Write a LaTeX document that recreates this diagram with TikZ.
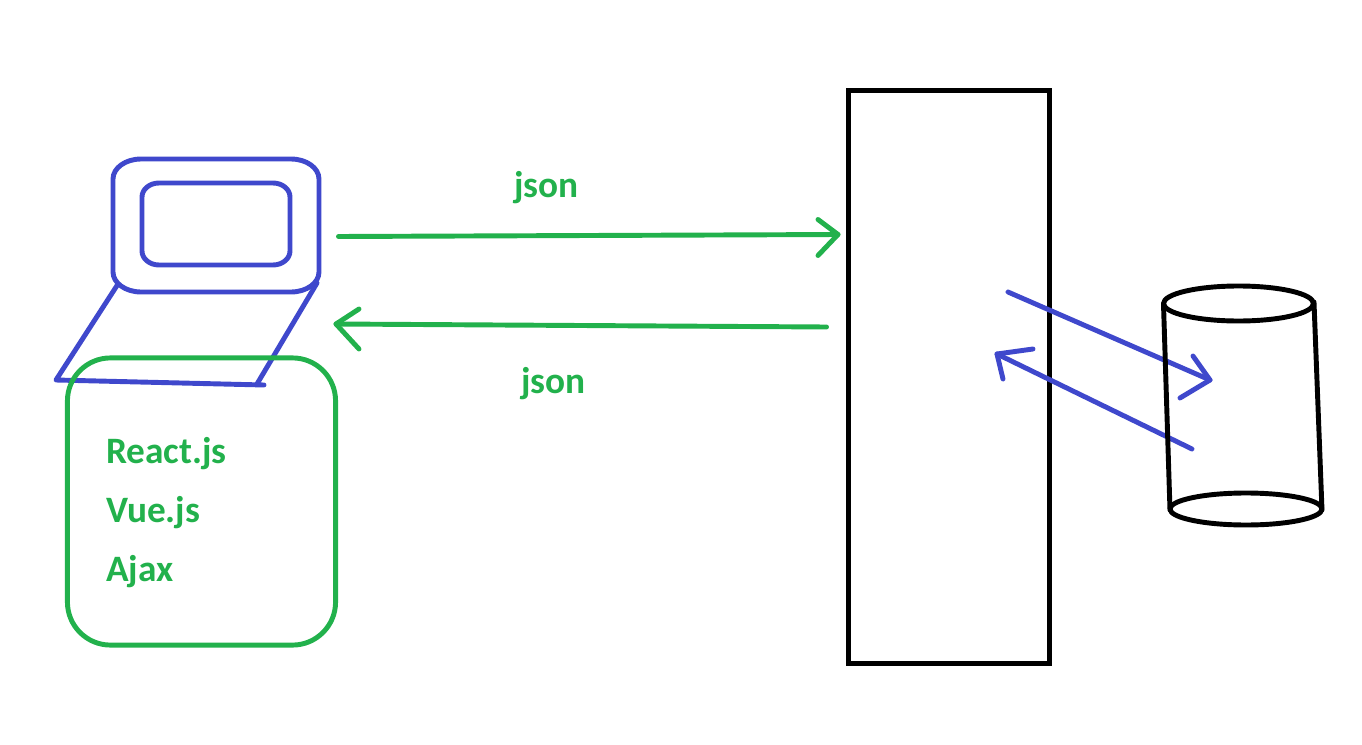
\documentclass[tikz,border=0pt]{standalone}
\usepackage{fontspec}
\setmainfont{Carlito}
\definecolor{paintblue}{HTML}{3F48CC}
\definecolor{paintgreen}{HTML}{22B14C}
\tikzset{
	bluepen/.style={draw=paintblue, line width=1.4pt, line cap=round, line join=round},
	greenpen/.style={draw=paintgreen, line width=1.4pt, line cap=round, line join=round},
	blackpen/.style={draw=black, line width=1.4pt, line cap=round, line join=round},
	label/.style={anchor=base west, inner sep=0pt, text=paintgreen, font=\fontsize{10.6}{12}\selectfont\bfseries},
	box/.style={rectangle, inner sep=0pt}
}
% left, top, right, bottom, corner width, corner height
\newcommand{\softbox}[6]{
	\draw[bluepen] ({#1+#5},#2) -- ({#3-#5},#2)
		arc[start angle=-90, end angle=0, x radius=#5, y radius=#6] -- (#3,{#4-#6})
		arc[start angle=0, end angle=90, x radius=#5, y radius=#6] -- ({#1+#5},#4)
		arc[start angle=90, end angle=180, x radius=#5, y radius=#6] -- (#1,{#2+#6})
		arc[start angle=180, end angle=270, x radius=#5, y radius=#6] -- cycle;
}
\begin{document}
\begin{tikzpicture}[x=.01cm,y=-.01cm]
	\useasboundingbox (0,0) rectangle (1362,745);

	% server
	\node[box, blackpen, line cap=butt, line join=miter, minimum width=2.01cm, minimum height=5.72cm] (server) at (949,377) {};

	% laptop
	\softbox{113}{159}{319}{292}{28}{20}
	\softbox{142}{183}{290}{265}{17}{14}
	\draw[bluepen] (118,284) -- (56,380) -- (264,385);
	\draw[bluepen] (257,384) -- (317,283);

	% libraries
	\node[box, greenpen, minimum width=2.68cm, minimum height=2.87cm, rounded corners=.43cm] (libs) at (201.5,501.5) {};
	\node[label] (react) at (105.5,463) {React.js};
	\node[label] (vue) at (105.5,522) {Vue.js};
	\node[label] (ajax) at (105.5,581) {Ajax};

	% requests
	\coordinate (reqfrom) at (338.5,236.5);
	\coordinate (reqto) at (838,234.5);
	\coordinate (resfrom) at (826.5,327);
	\coordinate (resto) at (336,324);
	\draw[greenpen] (reqfrom) -- (reqto);
	\draw[greenpen] (reqto) ++(-20,-15) -- (reqto) -- ++(-20,21);
	\draw[greenpen] (resfrom) -- (resto);
	\draw[greenpen] (resto) ++(23,-15) -- (resto) -- ++(23,25);
	\node[label] (jsonreq) at (513.5,197) {json};
	\node[label] (jsonres) at (520.5,393) {json};

	% queries
	\coordinate (qfrom) at (1008,292);
	\coordinate (qto) at (1210,380);
	\coordinate (rfrom) at (1192,449);
	\coordinate (rto) at (997,354);
	\draw[bluepen] (qfrom) -- (qto);
	\draw[bluepen] (qto) ++(-17,-24) -- (qto) -- ++(-30,18);
	\draw[bluepen] (rfrom) -- (rto);
	\draw[bluepen] (rto) ++(36,-5) -- (rto) -- ++(6,25);

	% database
	\draw[blackpen] (1238.5,303.5) ellipse (75 and 17.5);
	\draw[blackpen] (1246,509) ellipse (76 and 16);
	\draw[blackpen] (1163.5,304) -- (1170,510);
	\draw[blackpen] (1314,302) -- (1322,510);
\end{tikzpicture}
\end{document}
